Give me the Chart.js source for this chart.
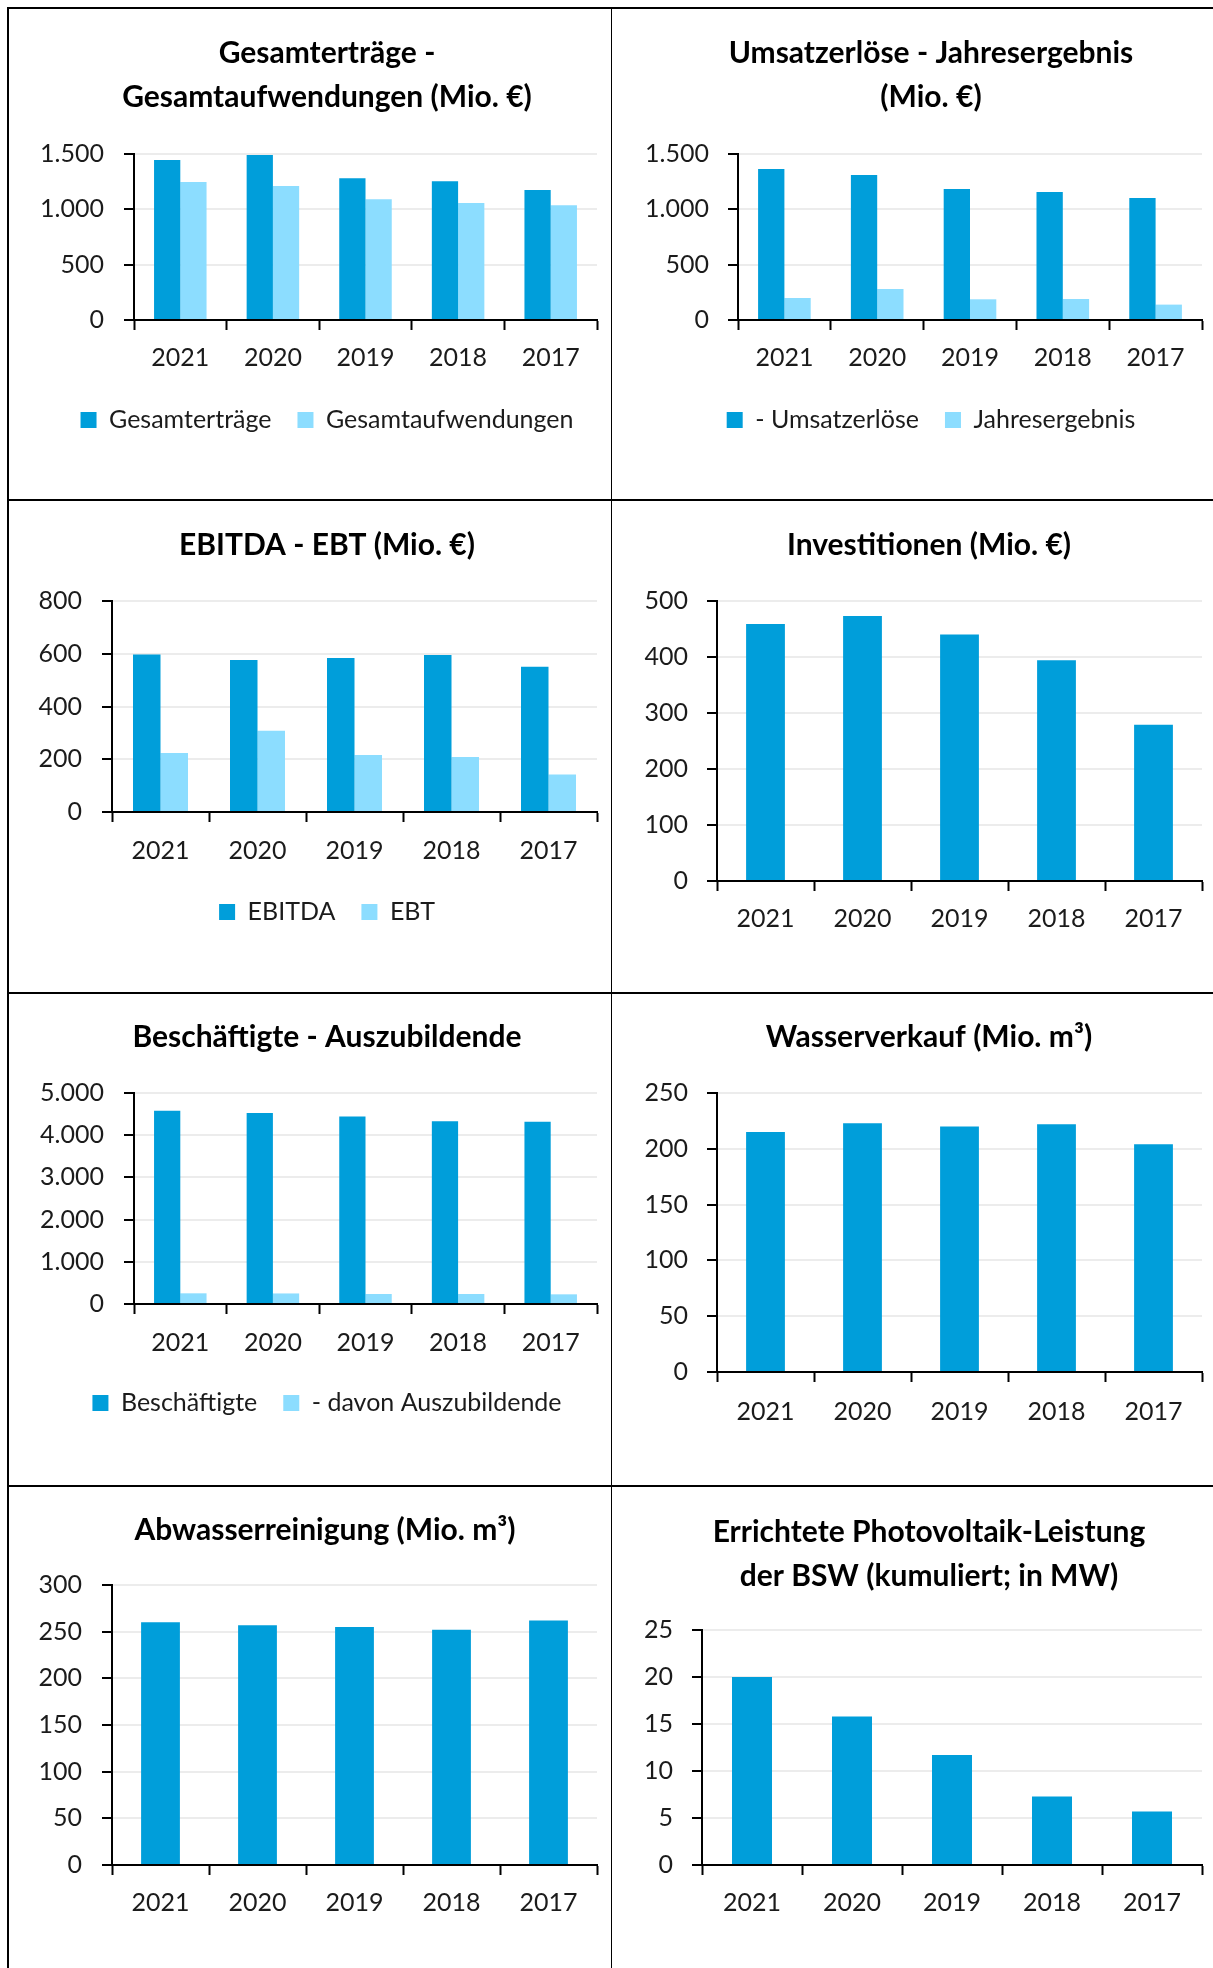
<!DOCTYPE html>
<html>
<head>
<meta charset="utf-8">
<script src="https://cdn.jsdelivr.net/npm/chart.js@4.4.1/dist/chart.umd.min.js"></script>
<style>
html, body { margin: 0; background: #fff; overflow: hidden; }
#page { width: 1213px; height: 1968px; position: relative; overflow: hidden; }
canvas { position: absolute; }
.rule { position: absolute; background: #000; }
</style>
</head>
<body>
<div id="page">
<div class="rule" style="left:7px;top:7px;width:1206px;height:2px"></div>
<div class="rule" style="left:7px;top:7px;width:2px;height:1961px"></div>
<div class="rule" style="left:611px;top:7px;width:1px;height:1961px"></div>
<div class="rule" style="left:7px;top:499px;width:1206px;height:2px"></div>
<div class="rule" style="left:7px;top:992px;width:1206px;height:2px"></div>
<div class="rule" style="left:7px;top:1485px;width:1206px;height:2px"></div>

<canvas id="c1"></canvas>
<canvas id="c2"></canvas>
<canvas id="c3"></canvas>
<canvas id="c4"></canvas>
<canvas id="c5"></canvas>
<canvas id="c6"></canvas>
<canvas id="c7"></canvas>
<canvas id="c8"></canvas>
</div>

<script>
// data
const YEARS = ['2021', '2020', '2019', '2018', '2017'];
const ERTRAEGE = [1446, 1491, 1280, 1253, 1175];
const AUFWENDUNGEN = [1247, 1211, 1090, 1057, 1036];
const UMSATZ = [1364, 1310, 1184, 1157, 1102];
const JAHRESERGEBNIS = [199, 280, 187, 190, 139];
const EBITDA = [597, 576, 584, 595, 551];
const EBT = [224, 308, 216, 209, 142];
const INVESTITIONEN = [459, 473, 440, 394, 279];
const BESCHAEFTIGTE = [4581, 4525, 4446, 4328, 4320];
const AZUBIS = [253, 250, 237, 237, 229];
const WASSER = [215, 223, 220, 222, 204];
const ABWASSER = [260, 257, 255, 252, 262];
const PV_LEISTUNG = [20, 15.8, 11.7, 7.3, 5.7];

const DARK = 'rgb(0,158,218)';
const LIGHT = 'rgb(140,221,255)';
const TEXT = '#1b1b1b';
const FONT = 'Lato';

function fmt(v) {
    return String(v).replace(/\B(?=(\d{3})+(?!\d))/g, '.');
}

// g = where the panel sits on the page and where its plot area should end up
// canvas is centred on g.cx so title and legend centre there; an empty right axis fills the gap
function makeChart(id, g, title, yMax, yStep, datasets, barPct) {
    var canvas = document.getElementById(id);
    var w = 2 * (g.cx - g.x);
    canvas.width = w;
    canvas.height = g.h;
    canvas.style.left = g.x + 'px';
    canvas.style.top = g.y + 'px';

    var lineH = 44;
    var titleSize = 30;
    var fs = 25;
    var box = 16;
    var legPad = 26;
    var nLines = Array.isArray(title) ? title.length : 1;
    var titleTop = g.titleY - g.y - lineH / 2;
    var titleBottom = g.top - (g.y + titleTop + nLines * lineH);
    var leftW = g.left - g.x;
    var rightW = g.x + w - g.right;
    var xAxisH, padB;
    var showLegend = datasets.length > 1;
    if (showLegend) {
        var legTop = g.legendY - legPad - fs / 2;
        xAxisH = legTop - g.bottom;
        padB = g.y + g.h - (legTop + fs + legPad + 10);
    } else {
        xAxisH = 70;
        padB = g.y + g.h - g.bottom - xAxisH;
    }
    var xTickPad = g.labelY - g.bottom - 10 - fs * 1.2 / 2;

    return new Chart(canvas, {
        type: 'bar',
        data: {
            labels: YEARS,
            datasets: datasets.map(function (d) {
                return {
                    label: d.label,
                    data: d.data,
                    yAxisID: 'y',
                    backgroundColor: d.color,
                    borderWidth: 0,
                    categoryPercentage: barPct,
                    barPercentage: 1
                };
            })
        },
        options: {
            responsive: false,
            animation: false,
            devicePixelRatio: 1,
            layout: {
                padding: { left: 0, right: 0, top: 0, bottom: padB }
            },
            plugins: {
                title: {
                    display: true,
                    text: title,
                    color: '#000',
                    font: { family: FONT, size: titleSize, weight: 'bold', lineHeight: lineH / titleSize },
                    padding: { top: titleTop, bottom: titleBottom }
                },
                legend: {
                    display: showLegend,
                    position: 'bottom',
                    labels: {
                        color: TEXT,
                        font: { family: FONT, size: fs },
                        boxWidth: box,
                        boxHeight: box,
                        padding: legPad
                    }
                },
                tooltip: { enabled: false }
            },
            scales: {
                x: {
                    grid: {
                        offset: true,
                        drawOnChartArea: false,
                        tickLength: 10,
                        tickColor: '#000',
                        tickWidth: 2
                    },
                    border: { color: '#000', width: 2 },
                    ticks: {
                        color: TEXT,
                        font: { family: FONT, size: fs },
                        padding: xTickPad,
                        maxRotation: 0
                    },
                    afterFit: function (scale) { scale.height = xAxisH; }
                },
                y: {
                    min: 0,
                    max: yMax,
                    ticks: {
                        stepSize: yStep,
                        color: TEXT,
                        font: { family: FONT, size: fs },
                        padding: g.tickGap,
                        callback: function (v) { return fmt(v); }
                    },
                    grid: {
                        color: function (ctx) {
                            return ctx.tick && ctx.tick.value === 0 ? 'rgba(0,0,0,0)' : '#ececec';
                        },
                        lineWidth: 2,
                        tickLength: 10,
                        tickColor: '#000',
                        tickWidth: 2
                    },
                    border: { color: '#000', width: 2 },
                    afterFit: function (scale) { scale.width = leftW; }
                },
                yR: {
                    position: 'right',
                    grid: { display: false, drawTicks: false },
                    border: { display: false },
                    ticks: { display: false },
                    afterFit: function (scale) { scale.width = rightW; }
                }
            }
        }
    });
}

// Gesamterträge - Gesamtaufwendungen
makeChart('c1',
    { x: 9, y: 9, h: 490, cx: 327, left: 134, right: 597, top: 154, bottom: 320, titleY: 53, legendY: 420, labelY: 358, tickGap: 20 },
    ['Gesamterträge -', 'Gesamtaufwendungen (Mio. €)'], 1500, 500,
    [{ label: 'Gesamterträge', data: ERTRAEGE, color: DARK },
     { label: 'Gesamtaufwendungen', data: AUFWENDUNGEN, color: LIGHT }], 0.567);

// Umsatzerlöse - Jahresergebnis
makeChart('c2',
    { x: 612, y: 9, h: 490, cx: 931, left: 738, right: 1202, top: 154, bottom: 320, titleY: 53, legendY: 420, labelY: 358, tickGap: 19 },
    ['Umsatzerlöse - Jahresergebnis', '(Mio. €)'], 1500, 500,
    [{ label: '- Umsatzerlöse', data: UMSATZ, color: DARK },
     { label: 'Jahresergebnis', data: JAHRESERGEBNIS, color: LIGHT }], 0.567);

// EBITDA - EBT
makeChart('c3',
    { x: 9, y: 501, h: 491, cx: 327, left: 112, right: 597, top: 601, bottom: 812, titleY: 545, legendY: 912, labelY: 851, tickGap: 20 },
    'EBITDA - EBT (Mio. €)', 800, 200,
    [{ label: 'EBITDA', data: EBITDA, color: DARK },
     { label: 'EBT', data: EBT, color: LIGHT }], 0.567);

// Investitionen
makeChart('c4',
    { x: 612, y: 501, h: 491, cx: 929, left: 717, right: 1202, top: 601, bottom: 881, titleY: 545, labelY: 919, tickGap: 19 },
    'Investitionen (Mio. €)', 500, 100,
    [{ label: 'Investitionen', data: INVESTITIONEN, color: DARK }], 0.4);

// Beschäftigte - Auszubildende
makeChart('c5',
    { x: 9, y: 994, h: 491, cx: 327, left: 134, right: 597, top: 1093, bottom: 1304, titleY: 1037, legendY: 1403, labelY: 1343, tickGap: 20 },
    'Beschäftigte - Auszubildende', 5000, 1000,
    [{ label: 'Beschäftigte', data: BESCHAEFTIGTE, color: DARK },
     { label: '- davon Auszubildende', data: AZUBIS, color: LIGHT }], 0.567);

// Wasserverkauf
makeChart('c6',
    { x: 612, y: 994, h: 491, cx: 929, left: 717, right: 1202, top: 1093, bottom: 1372, titleY: 1037, labelY: 1412, tickGap: 19 },
    'Wasserverkauf (Mio. m³)', 250, 50,
    [{ label: 'Wasserverkauf', data: WASSER, color: DARK }], 0.4);

// Abwasserreinigung
makeChart('c7',
    { x: 9, y: 1487, h: 481, cx: 325, left: 112, right: 597, top: 1585, bottom: 1865, titleY: 1530, labelY: 1903, tickGap: 20 },
    'Abwasserreinigung (Mio. m³)', 300, 50,
    [{ label: 'Abwasserreinigung', data: ABWASSER, color: DARK }], 0.4);

// Photovoltaik
makeChart('c8',
    { x: 612, y: 1487, h: 481, cx: 929, left: 702, right: 1202, top: 1630, bottom: 1865, titleY: 1532, labelY: 1903, tickGap: 19 },
    ['Errichtete Photovoltaik-Leistung', 'der BSW (kumuliert; in MW)'], 25, 5,
    [{ label: 'Photovoltaik-Leistung', data: PV_LEISTUNG, color: DARK }], 0.4);
</script>
</body>
</html>
